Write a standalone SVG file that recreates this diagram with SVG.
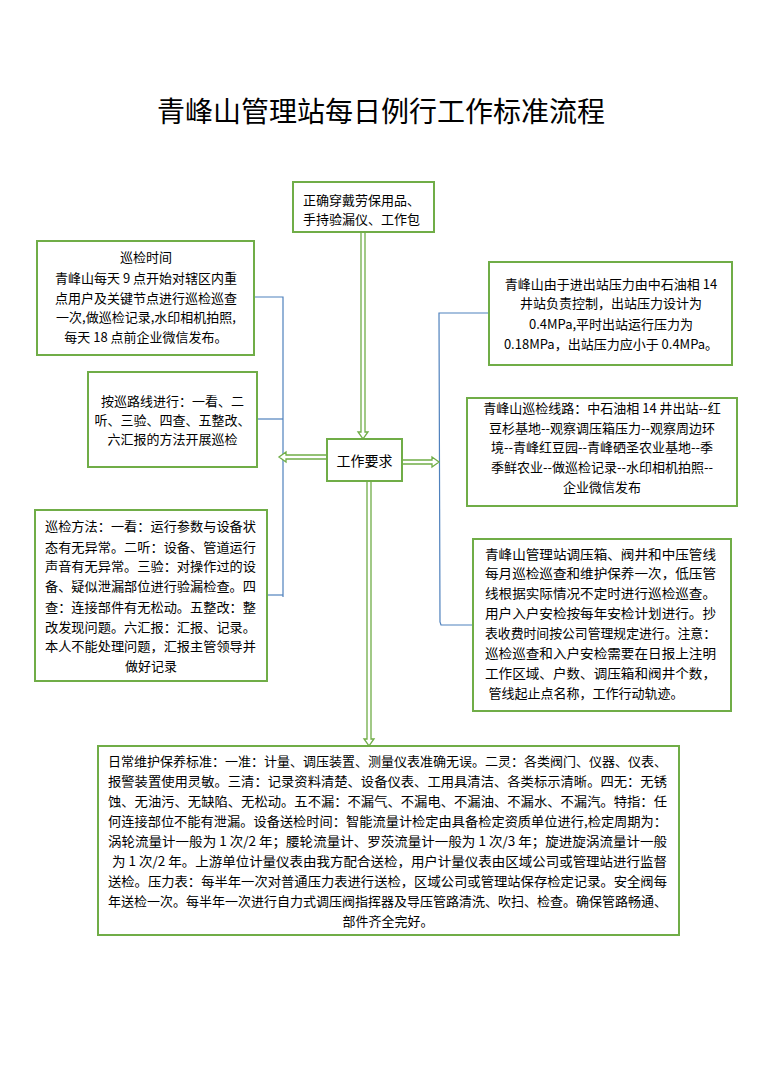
<svg xmlns="http://www.w3.org/2000/svg" width="763" height="1080" viewBox="0 0 763 1080">
<style>
.box{fill:#fff;stroke:#70AD47;stroke-width:2}
.arr{fill:#fff;stroke:#70AD47;stroke-width:1.3;stroke-linejoin:miter}
.ln{fill:none;stroke:#4F81BD;stroke-width:1.2}
text{font-family:"Noto Sans CJK SC","Liberation Sans",sans-serif;font-size:13px;fill:#000}
.c{text-anchor:middle}
.title{font-size:28px;text-anchor:middle}
</style>
<rect width="763" height="1080" fill="#fff"/>
<text class="title" x="381" y="122">青峰山管理站每日例行工作标准流程</text>

<g id="connectors">
<polyline class="ln" points="254,297 283,297 283,597"/>
<line class="ln" x1="257" y1="419" x2="283" y2="419"/>
<line class="ln" x1="267" y1="595" x2="283" y2="595"/>
<polyline class="ln" points="489,313 439,313 440,622 441,625 473,625"/>
<polygon class="arr" points="361,232 365,232 365,432 368,432 363,439 358,432 361,432"/>
<polygon class="arr" points="327,455 286,455 286,452 279,457 286,462 286,459 327,459"/>
<polygon class="arr" points="402,460 432,460 432,457 439,462 432,467 432,464 402,464"/>
<polygon class="arr" points="367,481 371,481 371,739 374,739 369,746 364,739 367,739"/>
</g>

<g id="top">
<rect class="box" x="293" y="182" width="141" height="50"/>
<text x="303" y="205">正确穿戴劳保用品、</text>
<text x="303" y="224">手持验漏仪、工作包</text>
</g>

<g id="center">
<rect class="box" x="327" y="439" width="75" height="42"/>
<text class="c" x="364.5" y="466" style="font-size:14px">工作要求</text>
</g>

<g id="left1">
<rect class="box" x="37" y="241" width="217" height="114"/>
<text class="c" x="146" y="262">巡检时间</text>
<text class="c" x="146" y="283">青峰山每天 9 点开始对辖区内重</text>
<text class="c" x="146" y="303">点用户及关键节点进行巡检巡查</text>
<text class="c" x="146" y="322">一次,做巡检记录,水印相机拍照,</text>
<text class="c" x="146" y="342">每天 18 点前企业微信发布。</text>
</g>

<g id="left2">
<rect class="box" x="88" y="372" width="169" height="95"/>
<text class="c" x="172.5" y="406">按巡路线进行：一看、二</text>
<text class="c" x="172.5" y="425">听、三验、四查、五整改、</text>
<text class="c" x="172.5" y="444">六汇报的方法开展巡检</text>
</g>

<g id="left3">
<rect class="box" x="35" y="510" width="232" height="171"/>
<text x="45" y="531" textLength="211" lengthAdjust="spacingAndGlyphs">巡检方法：一看：运行参数与设备状</text>
<text x="45" y="552" textLength="211" lengthAdjust="spacingAndGlyphs">态有无异常。二听：设备、管道运行</text>
<text x="45" y="571" textLength="211" lengthAdjust="spacingAndGlyphs">声音有无异常。三验：对操作过的设</text>
<text x="45" y="591" textLength="211" lengthAdjust="spacingAndGlyphs">备、疑似泄漏部位进行验漏检查。四</text>
<text x="45" y="612" textLength="211" lengthAdjust="spacingAndGlyphs">查：连接部件有无松动。五整改：整</text>
<text x="45" y="632" textLength="211" lengthAdjust="spacingAndGlyphs">改发现问题。六汇报：汇报、记录。</text>
<text x="45" y="651" textLength="211" lengthAdjust="spacingAndGlyphs">本人不能处理问题，汇报主管领导并</text>
<text class="c" x="151" y="671">做好记录</text>
</g>

<g id="right1">
<rect class="box" x="489" y="262" width="243" height="103"/>
<text class="c" x="611" y="289">青峰山由于进出站压力由中石油相 14</text>
<text class="c" x="611" y="308">井站负责控制，出站压力设计为</text>
<text class="c" x="611" y="329">0.4MPa,平时出站运行压力为</text>
<text class="c" x="611" y="349">0.18MPa，出站压力应小于 0.4MPa。</text>
</g>

<g id="right2">
<rect class="box" x="467" y="398" width="270" height="108"/>
<text class="c" x="602" y="413">青峰山巡检线路：中石油相 14 井出站--红</text>
<text class="c" x="602" y="433">豆杉基地--观察调压箱压力--观察周边环</text>
<text class="c" x="602" y="452">境--青峰红豆园--青峰硒圣农业基地--季</text>
<text class="c" x="602" y="472">季鲜农业--做巡检记录--水印相机拍照--</text>
<text class="c" x="602" y="492">企业微信发布</text>
</g>

<g id="right3">
<rect class="box" x="473" y="539" width="258" height="172"/>
<text x="485" y="559" textLength="231" lengthAdjust="spacingAndGlyphs">青峰山管理站调压箱、阀井和中压管线</text>
<text x="485" y="578" textLength="231" lengthAdjust="spacingAndGlyphs">每月巡检巡查和维护保养一次，低压管</text>
<text x="485" y="598" textLength="231" lengthAdjust="spacingAndGlyphs">线根据实际情况不定时进行巡检巡查。</text>
<text x="485" y="618" textLength="231" lengthAdjust="spacingAndGlyphs">用户入户安检按每年安检计划进行。抄</text>
<text x="485" y="638" textLength="231" lengthAdjust="spacingAndGlyphs">表收费时间按公司管理规定进行。注意：</text>
<text x="485" y="658" textLength="231" lengthAdjust="spacingAndGlyphs">巡检巡查和入户安检需要在日报上注明</text>
<text x="485" y="678" textLength="231" lengthAdjust="spacingAndGlyphs">工作区域、户数、调压箱和阀井个数，</text>
<text class="c" x="586" y="698">管线起止点名称，工作行动轨迹。</text>
</g>

<g id="bottom">
<rect class="box" x="98" y="746" width="581" height="189"/>
<text x="108" y="766" textLength="559" lengthAdjust="spacingAndGlyphs">日常维护保养标准：一准：计量、调压装置、测量仪表准确无误。二灵：各类阀门、仪器、仪表、</text>
<text x="108" y="786" textLength="559" lengthAdjust="spacingAndGlyphs">报警装置使用灵敏。三清：记录资料清楚、设备仪表、工用具清洁、各类标示清晰。四无：无锈</text>
<text x="108" y="806" textLength="559" lengthAdjust="spacingAndGlyphs">蚀、无油污、无缺陷、无松动。五不漏：不漏气、不漏电、不漏油、不漏水、不漏汽。特指：任</text>
<text x="108" y="826" textLength="559" lengthAdjust="spacingAndGlyphs">何连接部位不能有泄漏。设备送检时间：智能流量计检定由具备检定资质单位进行,检定周期为：</text>
<text x="108" y="846" textLength="559" lengthAdjust="spacingAndGlyphs">涡轮流量计一般为 1 次/2 年；腰轮流量计、罗茨流量计一般为 1 次/3 年；旋进旋涡流量计一般</text>
<text x="112" y="866" textLength="555" lengthAdjust="spacingAndGlyphs">为 1 次/2 年。上游单位计量仪表由我方配合送检，用户计量仪表由区域公司或管理站进行监督</text>
<text x="108" y="886" textLength="559" lengthAdjust="spacingAndGlyphs">送检。压力表：每半年一次对普通压力表进行送检，区域公司或管理站保存检定记录。安全阀每</text>
<text x="108" y="906" textLength="559" lengthAdjust="spacingAndGlyphs">年送检一次。每半年一次进行自力式调压阀指挥器及导压管路清洗、吹扫、检查。确保管路畅通、</text>
<text class="c" x="388" y="926">部件齐全完好。</text>
</g>
</svg>
